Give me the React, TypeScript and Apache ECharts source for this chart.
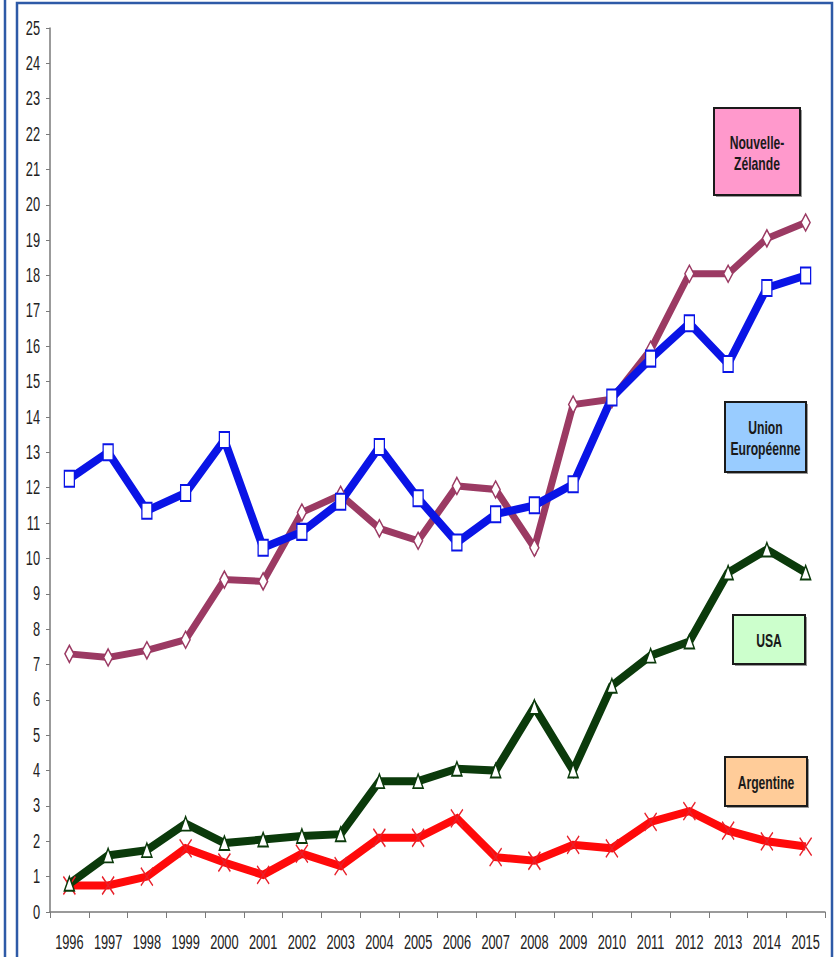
import React, { useEffect, useRef } from "react";
import * as echarts from "echarts";

const years = ["1996","1997","1998","1999","2000","2001","2002","2003","2004","2005","2006","2007","2008","2009","2010","2011","2012","2013","2014","2015"];
const nouvelleZelande = [7.3,7.2,7.4,7.7,9.4,9.35,11.3,11.8,10.85,10.5,12.05,11.95,10.3,14.35,14.5,15.9,18.05,18.05,19.05,19.5];
const unionEuropeenne = [12.25,13.0,11.35,11.85,13.35,10.3,10.75,11.6,13.15,11.7,10.45,11.25,11.5,12.1,14.55,15.65,16.65,15.5,17.65,18.0];
const usa = [0.8,1.6,1.75,2.5,1.95,2.05,2.15,2.2,3.7,3.7,4.05,4.0,5.8,4.0,6.4,7.25,7.65,9.6,10.25,9.6];
const argentine = [0.75,0.75,1.0,1.8,1.4,1.05,1.65,1.3,2.1,2.1,2.65,1.55,1.45,1.9,1.8,2.55,2.85,2.3,2.0,1.85];
const yTickValues = [0,1,2,3,4,5,6,7,8,9,10,11,12,13,14,15,16,17,18,19,20,21,22,23,24,25];

const FONT = "'Liberation Sans', Arial, sans-serif";

export default function App() {
  const ref = useRef<HTMLDivElement>(null);
  useEffect(() => {
    document.body.style.margin = "0";
    const chart = echarts.init(ref.current!, null, { renderer: "svg" });
    const mk = (name: string, data: number[], color: string, symbol: string, size: number[], width: number, isCross = false) => ({
      name,
      type: "line",
      data,
      symbol,
      symbolSize: size,
      showAllSymbol: true,
      lineStyle: { color, width, join: "miter" },
      itemStyle: isCross
        ? { color: "rgba(0,0,0,0)", borderColor: "#e8202a", borderWidth: 1.5 }
        : { color: "#ffffff", borderColor: color, borderWidth: 1.6 },
      z: 2,
    });
    const box = (x: number, y: number, w: number, h: number, fill: string, text: string) => ({
      type: "group",
      children: [
        { type: "rect", shape: { x: x + 2, y: y + 2, width: w, height: h }, style: { fill: "#9a9a9a" }, z: 10 },
        { type: "rect", shape: { x, y, width: w, height: h }, style: { fill, stroke: "#1a1a1a", lineWidth: 2 }, z: 11 },
        {
          type: "text",
          x: x + w / 2,
          y: y + h / 2 + 1,
          scaleX: 0.64,
          style: { text, fill: "#1a1a1a", font: `bold 19px ${FONT}`, align: "center", verticalAlign: "middle", lineHeight: 21 },
          z: 12,
        },
      ],
    });
    chart.setOption({
      animation: false,
      backgroundColor: "#ffffff",
      grid: { left: 50, right: 11, top: 28, bottom: 45, containLabel: false },
      xAxis: {
        type: "category",
        data: years,
        boundaryGap: true,
        axisLine: { lineStyle: { color: "#7a7a7a", width: 1.5 } },
        axisTick: { show: true, length: 6, alignWithLabel: false, lineStyle: { color: "#7a7a7a" } },
        axisLabel: { show: false },
      },
      yAxis: {
        type: "value",
        min: 0,
        max: 25,
        interval: 1,
        splitLine: { show: false },
        axisLine: { show: true, lineStyle: { color: "#7a7a7a", width: 1.5 } },
        axisTick: { show: true, length: 4, lineStyle: { color: "#7a7a7a" } },
        axisLabel: { show: false },
      },
      series: [
        mk("Nouvelle-Zélande", nouvelleZelande, "#9b3a63", "diamond", [9, 17], 7),
        mk("Union Européenne", unionEuropeenne, "#0a14e6", "rect", [10, 16], 8),
        mk("Argentine", argentine, "#ff0a0a", "path://M0,0L10,16M10,0L0,16", [12, 18], 8, true),
        mk("USA", usa, "#0b3a0b", "triangle", [10, 14], 8),
      ],
    });
    const zeroY = chart.convertToPixel({ yAxisIndex: 0 }, 0) as number;
    const gridLeft = 50;
    const xLabels = years.map((yr) => ({
      type: "text",
      x: chart.convertToPixel({ xAxisIndex: 0 }, yr) as number,
      y: zeroY + 30,
      scaleX: 0.64,
      style: { text: yr, fill: "#222", font: `20px ${FONT}`, align: "center", verticalAlign: "middle" },
      z: 15,
    }));
    const yLabels = yTickValues.map((v) => ({
      type: "text",
      x: gridLeft - 10,
      y: chart.convertToPixel({ yAxisIndex: 0 }, v) as number,
      scaleX: 0.64,
      style: { text: String(v), fill: "#222", font: `20px ${FONT}`, align: "right", verticalAlign: "middle" },
      z: 15,
    }));
    chart.setOption({
      graphic: [
        { type: "line", shape: { x1: 5, y1: 0, x2: 5, y2: 957 }, style: { stroke: "#2e5aa7", lineWidth: 2.5 }, z: 20 },
        { type: "rect", shape: { x: 17, y: 3, width: 815, height: 970 }, style: { fill: "none", stroke: "#2e5aa7", lineWidth: 2.5 }, z: 20 },
        box(714, 108, 86, 87, "#ff99cc", "Nouvelle-\nZélande"),
        box(725, 402, 81, 70, "#99ccff", "Union\nEuropéenne"),
        box(733, 615, 72, 49, "#ccffcc", "USA"),
        box(725, 757, 82, 49, "#ffcc99", "Argentine"),
        ...xLabels,
        ...yLabels,
      ],
    });
    return () => chart.dispose();
  }, []);
  return <div ref={ref} style={{ position: "absolute", left: 0, top: 0, width: 836, height: 957 }} />;
}
